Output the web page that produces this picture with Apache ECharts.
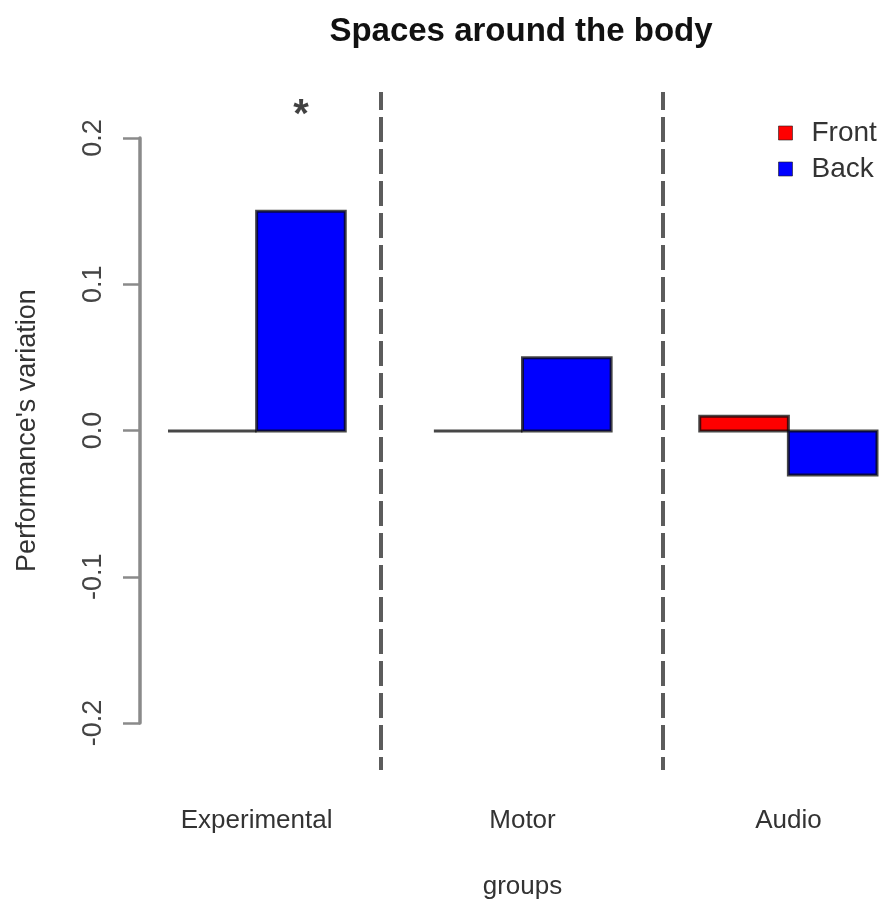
<!DOCTYPE html>
<html>
<head>
<meta charset="utf-8">
<title>Spaces around the body</title>
<script src="https://cdn.jsdelivr.net/npm/echarts@6/dist/echarts.min.js"></script>
<style>
  html, body { margin: 0; padding: 0; background: #fff; }
  #chart { width: 888px; height: 901px; }
</style>
</head>
<body>
<div id="chart"></div>
<script>
// Groups and per-position performance variation
const groups = ['Experimental', 'Motor', 'Audio'];
const frontValues = [0.0, 0.0, 0.01];
const backValues = [0.15, 0.05, -0.03];
const yTicks = [-0.2, -0.1, 0.0, 0.1, 0.2];

// Separator positions and significance marker, in barplot units
// (each bar is one unit wide, groups are one unit apart)
const separators = [3.4, 6.58];
const starMarks = [[2.5, 0.22]];

const FONT = '"Liberation Sans", Arial, Helvetica, sans-serif';

// Barplot layout: group i occupies [1 + 3i, 3 + 3i]; front bar left, back bar right
const groupCentre = i => 2 + 3 * i;
const frontBars = frontValues.map((v, i) => [groupCentre(i) - 1, groupCentre(i), v]);
const backBars = backValues.map((v, i) => [groupCentre(i), groupCentre(i) + 1, v]);
const labelPositions = groups.map((g, i) => groupCentre(i));

function renderBar(params, api) {
  const p0 = api.coord([api.value(0), api.value(2)]);
  const p1 = api.coord([api.value(1), 0]);
  return {
    type: 'rect',
    shape: {
      x: p0[0],
      y: Math.min(p0[1], p1[1]),
      width: p1[0] - p0[0],
      height: Math.abs(p1[1] - p0[1])
    },
    style: {
      fill: api.visual('color'),
      stroke: 'rgba(10,10,10,0.75)',
      lineWidth: 3
    }
  };
}

const chart = echarts.init(document.getElementById('chart'), null, { renderer: 'canvas' });

chart.setOption({
  animation: false,
  backgroundColor: '#ffffff',
  textStyle: { fontFamily: FONT },
  title: {
    text: 'Spaces around the body',
    left: 516,
    top: 10,
    textAlign: 'center',
    textStyle: { fontFamily: FONT, fontSize: 33, fontWeight: 'bold', color: '#111' }
  },
  legend: {
    data: ['Front', 'Back'],
    orient: 'vertical',
    left: 773,
    top: 114,
    itemWidth: 14,
    itemHeight: 14,
    itemGap: 8,
    icon: 'rect',
    itemStyle: { borderWidth: 1, borderColor: 'rgba(30,30,30,0.6)' },
    textStyle: { fontFamily: FONT, fontSize: 28, color: '#333', padding: [0, 0, 0, 14] }
  },
  grid: [
    // plotting region, barplot units 1..9
    { left: 168, right: 11, top: 92, bottom: 131, containLabel: false, outerBoundsMode: 'none' },
    // region that carries the visible value axis
    { left: 140, width: 1, top: 138, bottom: 178, containLabel: false, outerBoundsMode: 'none' }
  ],
  xAxis: [
    {
      type: 'value',
      gridIndex: 0,
      min: 1,
      max: 9,
      axisLine: { show: false },
      axisTick: { show: false },
      splitLine: { show: false },
      axisLabel: {
        customValues: labelPositions,
        fontFamily: FONT,
        fontSize: 26,
        color: '#333',
        margin: 38,
        formatter: v => groups[labelPositions.indexOf(v)] || ''
      },
      name: 'groups',
      nameLocation: 'middle',
      nameGap: 104,
      nameTextStyle: { fontFamily: FONT, fontSize: 26, color: '#333' }
    },
    {
      type: 'value',
      gridIndex: 1,
      show: false
    }
  ],
  yAxis: [
    {
      type: 'value',
      gridIndex: 0,
      min: -0.2314,
      max: 0.2314,
      show: false
    },
    {
      type: 'value',
      gridIndex: 1,
      min: yTicks[0],
      max: yTicks[yTicks.length - 1],
      interval: 0.1,
      axisLine: { show: true, lineStyle: { color: '#8a8a8a', width: 3.5 } },
      axisTick: { show: true, length: 17, lineStyle: { color: '#8a8a8a', width: 2.5 } },
      splitLine: { show: false },
      axisLabel: {
        rotate: 90,
        margin: 33,
        fontFamily: FONT,
        fontSize: 27,
        color: '#444',
        formatter: v => v.toFixed(1)
      },
      name: "Performance's variation",
      nameLocation: 'middle',
      nameRotate: 90,
      nameGap: 99,
      nameTextStyle: { fontFamily: FONT, fontSize: 27, color: '#333' }
    }
  ],
  series: [
    {
      name: 'Front',
      type: 'custom',
      xAxisIndex: 0,
      yAxisIndex: 0,
      itemStyle: { color: '#ff0000' },
      encode: { x: [0, 1], y: 2 },
      renderItem: renderBar,
      data: frontBars
    },
    {
      name: 'Back',
      type: 'custom',
      xAxisIndex: 0,
      yAxisIndex: 0,
      itemStyle: { color: '#0000ff' },
      encode: { x: [0, 1], y: 2 },
      renderItem: renderBar,
      data: backBars
    },
    {
      name: 'separators',
      type: 'line',
      xAxisIndex: 0,
      yAxisIndex: 0,
      data: [],
      silent: true,
      markLine: {
        silent: true,
        symbol: ['none', 'none'],
        label: { show: false },
        lineStyle: { color: '#4a4a4a', width: 4, type: [25, 7], dashOffset: 12, opacity: 0.9 },
        data: separators.map(x => ({ xAxis: x }))
      }
    },
    {
      name: 'significance',
      type: 'scatter',
      xAxisIndex: 0,
      yAxisIndex: 0,
      symbolSize: 0,
      silent: true,
      data: starMarks,
      label: {
        show: true,
        position: 'inside',
        formatter: '*',
        fontFamily: FONT,
        fontSize: 40,
        fontWeight: 'bold',
        color: '#111',
        offset: [0, 7]
      }
    }
  ]
});
</script>
</body>
</html>
